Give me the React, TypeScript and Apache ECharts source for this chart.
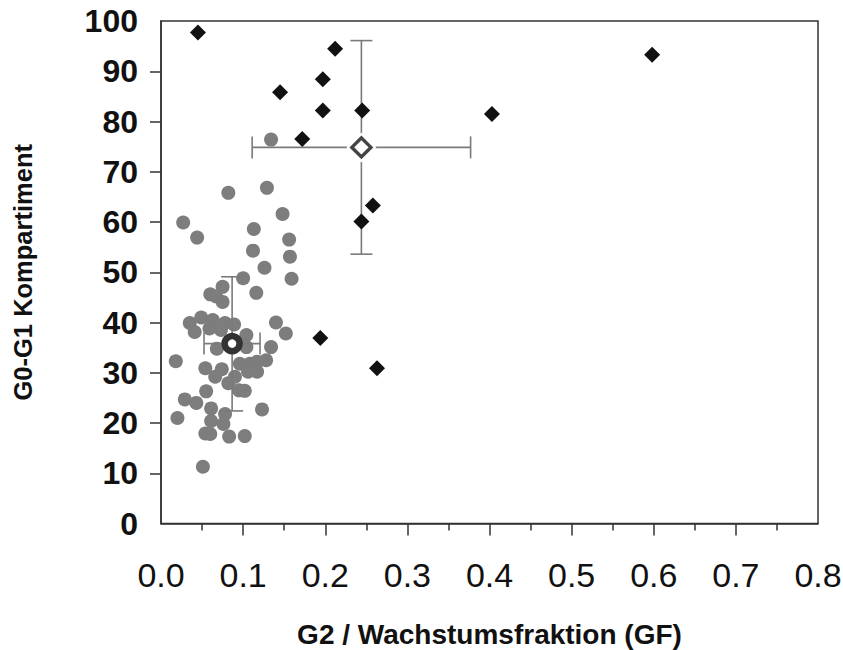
import React, { useEffect, useRef } from "react";
import * as echarts from "echarts";

// Group 1 (grey circles): [G2/GF, G0-G1 %]
const circlePoints: number[][] = [
  [0.134, 76.4], [0.082, 65.8], [0.129, 66.8], [0.148, 61.6], [0.027, 59.9],
  [0.044, 56.9], [0.113, 58.6], [0.156, 56.5], [0.112, 54.3], [0.157, 53.1],
  [0.126, 50.9], [0.159, 48.7], [0.1, 48.8], [0.116, 45.9], [0.06, 45.6],
  [0.075, 47.1], [0.075, 44.1], [0.067, 45.2], [0.035, 39.9], [0.049, 41.0],
  [0.063, 40.5], [0.078, 39.9], [0.089, 39.6], [0.041, 38.1], [0.059, 38.8],
  [0.073, 38.5], [0.14, 40.0], [0.152, 37.8], [0.104, 37.5], [0.134, 35.1],
  [0.068, 34.8], [0.104, 35.1], [0.018, 32.3], [0.096, 31.8], [0.108, 31.8],
  [0.117, 32.2], [0.128, 32.5], [0.106, 30.2], [0.117, 30.2], [0.054, 30.9],
  [0.074, 30.7], [0.066, 29.2], [0.082, 27.9], [0.09, 29.2], [0.095, 26.5],
  [0.102, 26.4], [0.055, 26.3], [0.029, 24.7], [0.043, 24.0], [0.061, 22.9],
  [0.078, 21.8], [0.123, 22.7], [0.02, 21.0], [0.061, 20.4], [0.076, 19.8],
  [0.054, 17.9], [0.06, 17.8], [0.083, 17.3], [0.102, 17.4], [0.051, 11.3],
];

// Group 2 (black diamonds)
const diamondPoints: number[][] = [
  [0.045, 97.7], [0.212, 94.5], [0.598, 93.3], [0.145, 85.8], [0.197, 88.4],
  [0.197, 82.2], [0.245, 82.2], [0.403, 81.5], [0.172, 76.5], [0.258, 63.3],
  [0.244, 60.1], [0.194, 36.9], [0.263, 30.9],
];

// Means with error bars: [x, y, xLow, xHigh, yLow, yHigh]
const circleMean: number[] = [0.0866, 35.8, 0.0524, 0.1206, 22.4, 49.1];
const diamondMean: number[] = [0.244, 74.85, 0.111, 0.377, 53.6, 96.1];

const xTickValues = [0.1, 0.2, 0.3, 0.4, 0.5, 0.6, 0.7];
const yTickValues = [10, 20, 30, 40, 50, 60, 70, 80, 90];

const FONT = "'Liberation Sans', Arial, Helvetica, sans-serif";

function errorBarRender(params: any, api: any) {
  const x = api.value(0);
  const y = api.value(1);
  const xl = api.value(2);
  const xh = api.value(3);
  const yl = api.value(4);
  const yh = api.value(5);
  const pL = api.coord([xl, y]);
  const pR = api.coord([xh, y]);
  const pT = api.coord([x, yh]);
  const pB = api.coord([x, yl]);
  const cap = 11;
  const style = { stroke: "#7a7a7a", lineWidth: 1.6 };
  return {
    type: "group",
    children: [
      { type: "line", shape: { x1: pL[0], y1: pL[1], x2: pR[0], y2: pR[1] }, style },
      { type: "line", shape: { x1: pT[0], y1: pT[1], x2: pB[0], y2: pB[1] }, style },
      { type: "line", shape: { x1: pL[0], y1: pL[1] - cap, x2: pL[0], y2: pL[1] + cap }, style },
      { type: "line", shape: { x1: pR[0], y1: pR[1] - cap, x2: pR[0], y2: pR[1] + cap }, style },
      { type: "line", shape: { x1: pT[0] - cap, y1: pT[1], x2: pT[0] + cap, y2: pT[1] }, style },
      { type: "line", shape: { x1: pB[0] - cap, y1: pB[1], x2: pB[0] + cap, y2: pB[1] }, style },
    ],
  };
}

export default function App() {
  const ref = useRef<HTMLDivElement>(null);
  useEffect(() => {
    if (!ref.current) return;
    const chart = echarts.init(ref.current, undefined, { renderer: "svg" });
    chart.setOption({
      animation: false,
      backgroundColor: "#ffffff",
      grid: {
        left: 161,
        top: 21,
        right: 25,
        bottom: 126.5,
        outerBoundsMode: "none",
        containLabel: false,
        show: true,
        borderColor: "#333",
        borderWidth: 1.5,
        backgroundColor: "transparent",
      },
      xAxis: {
        type: "value",
        min: 0,
        max: 0.8,
        interval: 0.1,
        name: "G2 / Wachstumsfraktion (GF)",
        nameLocation: "middle",
        nameGap: 111,
        nameTextStyle: {
          fontFamily: FONT,
          fontWeight: "bold",
          fontSize: 28,
          color: "#111",
          verticalAlign: "middle",
        },
        axisLine: { show: true, lineStyle: { color: "#333", width: 1.5 } },
        axisTick: {
          show: true,
          length: 12,
          customValues: xTickValues,
          lineStyle: { color: "#333", width: 1.5 },
        },
        minorTick: { show: true, splitNumber: 2, length: 7, lineStyle: { color: "#333", width: 1.5 } },
        splitLine: { show: false },
        axisLabel: {
          margin: 34,
          fontFamily: FONT,
          fontSize: 34,
          color: "#111",
          formatter: (v: number) => v.toFixed(1),
        },
      },
      yAxis: {
        type: "value",
        min: 0,
        max: 100,
        interval: 10,
        name: "G0-G1 Kompartiment",
        nameLocation: "middle",
        nameGap: 138,
        nameRotate: 90,
        nameTextStyle: {
          fontFamily: FONT,
          fontWeight: "bold",
          fontSize: 25.5,
          color: "#111",
          verticalAlign: "middle",
        },
        axisLine: { show: true, lineStyle: { color: "#333", width: 1.5 } },
        axisTick: {
          show: true,
          length: 11,
          customValues: yTickValues,
          lineStyle: { color: "#333", width: 1.5 },
        },
        splitLine: { show: false },
        axisLabel: {
          margin: 23,
          fontFamily: FONT,
          fontWeight: "bold",
          fontSize: 32,
          color: "#111",
        },
      },
      series: [
        {
          name: "Gruppe 1",
          type: "scatter",
          data: circlePoints,
          symbol: "circle",
          symbolSize: 14,
          itemStyle: { color: "#7d7d7d", opacity: 1 },
          z: 2,
        },
        {
          name: "Fehler 1",
          type: "custom",
          data: [circleMean],
          renderItem: errorBarRender,
          z: 3,
        },
        {
          name: "Fehler 2",
          type: "custom",
          data: [diamondMean],
          renderItem: errorBarRender,
          z: 3,
        },
        {
          name: "Gruppe 2",
          type: "scatter",
          data: diamondPoints,
          symbol: "diamond",
          symbolSize: 16,
          itemStyle: { color: "#111", opacity: 1 },
          z: 4,
        },
        {
          name: "Mittelwert 2 Hintergrund",
          type: "scatter",
          data: [[diamondMean[0], diamondMean[1]]],
          symbol: "diamond",
          symbolSize: 30,
          itemStyle: { color: "#ffffff", opacity: 1 },
          z: 5,
        },
        {
          name: "Mittelwert 2",
          type: "scatter",
          data: [[diamondMean[0], diamondMean[1]]],
          symbol: "diamond",
          symbolSize: 19,
          itemStyle: { color: "#ffffff", borderColor: "#444", borderWidth: 3.5, opacity: 1 },
          z: 6,
        },
        {
          name: "Mittelwert 1",
          type: "scatter",
          data: [[circleMean[0], circleMean[1]]],
          symbol: "circle",
          symbolSize: 15,
          itemStyle: { color: "#ffffff", borderColor: "#333", borderWidth: 6.5, opacity: 1 },
          z: 6,
        },
      ],
    });
    return () => chart.dispose();
  }, []);
  return (
    <div
      ref={ref}
      style={{ position: "fixed", left: 0, top: 0, width: 843, height: 650 }}
    />
  );
}
